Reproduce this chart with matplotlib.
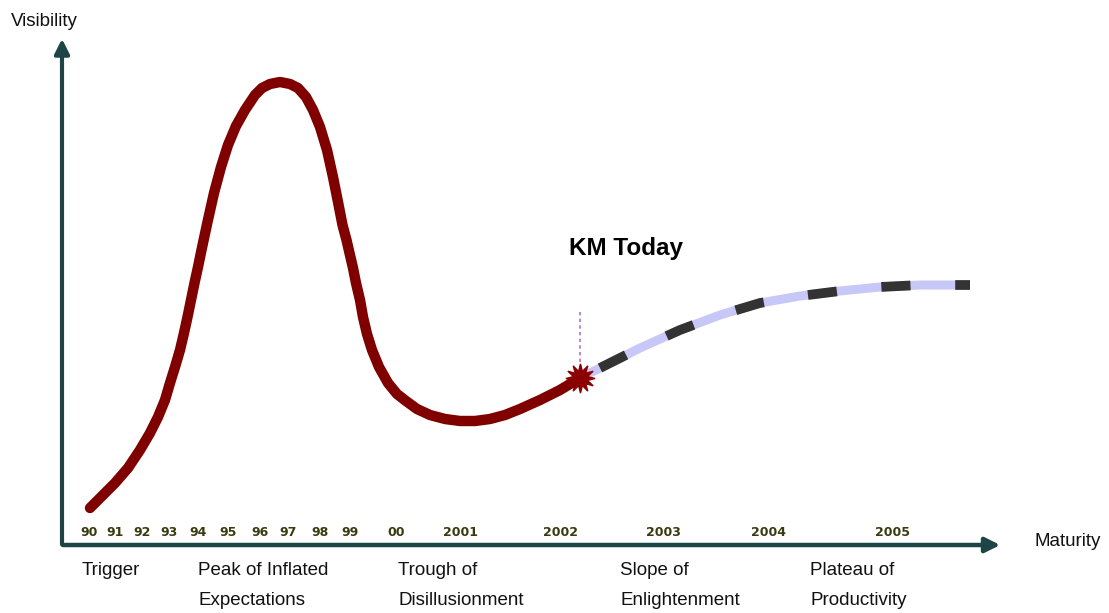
import matplotlib.pyplot as plt

# hype curve (pixel units, y downwards)
hype_x = [90, 102, 115, 128, 140, 150, 158, 165, 170, 175, 180, 184, 187.5, 191, 194.5,
          198, 201.5, 207.5, 214, 221, 228, 236, 245, 255, 262, 270, 280, 290, 298, 306,
          313, 320, 327, 333, 338, 342.5, 346.5, 349.5, 353, 356, 360, 363, 367, 372, 379,
          388, 397, 406, 417, 430, 445, 460, 475, 490, 505, 520, 540, 560, 580]
hype_y = [508, 496, 483, 468, 450, 433, 417, 400, 383, 367, 350, 333, 317, 300, 283,
          267, 250, 222, 193, 167, 145, 126, 110, 95, 88, 84, 82, 84, 88, 97,
          110, 127, 150, 177, 202, 225, 240, 253, 268, 283, 300, 317, 334, 350, 367,
          383, 394, 401, 409, 415, 419, 421, 421, 419, 415, 409, 400, 390, 378]

future_x = [580, 600, 640, 680, 720, 760, 800, 840, 880, 920, 970]
future_y = [378, 368, 348, 330, 315, 303, 296, 291, 287, 285, 285]

today = (580, 378)

year_labels = ['90', '91', '92', '93', '94', '95', '96', '97', '98', '99', '00',
               '2001', '2002', '2003', '2004', '2005']
year_pos = [89, 115, 142, 169, 198, 228, 260, 288, 320, 350, 396,
            461, 561, 663, 768, 892]

phase_labels = ['Trigger', 'Peak of Inflated\nExpectations', 'Trough of\nDisillusionment',
                'Slope of\nEnlightenment', 'Plateau of\nProductivity']
phase_pos = [82, 198, 398, 620, 810]

plt.rcParams['font.family'] = ['Liberation Sans', 'DejaVu Sans']

fig = plt.figure(figsize=(11.09, 6.13), dpi=100)
ax = fig.add_axes([0, 0, 1, 1])
ax.set_xlim(0, 1109)
ax.set_ylim(613, 0)
ax.axis('off')

axis_col = '#1d4545'
ax.annotate('', xy=(62, 36), xytext=(62, 547),
            arrowprops=dict(arrowstyle='-|>', lw=3, color=axis_col, mutation_scale=22))
ax.annotate('', xy=(1003, 545), xytext=(60, 545),
            arrowprops=dict(arrowstyle='-|>', lw=3.2, color=axis_col, mutation_scale=22))
ax.text(11, 21, 'Visibility', fontsize=13.5, va='center', ha='left', color='#111111')
ax.text(1035, 542, 'Maturity', fontsize=13.5, va='center', ha='left', color='#111111')

# curve
ax.plot(hype_x, hype_y, color='#800000', lw=7.5, solid_capstyle='round',
        solid_joinstyle='round', zorder=3)
ax.plot(future_x, future_y, color='#c8c8f8', lw=6.5, solid_capstyle='butt', zorder=2)
dark, = ax.plot(future_x[1:], future_y[1:], color='#333333', lw=7,
                solid_capstyle='butt', zorder=3)
dark.set_dashes((3.0, 4.6))

# today marker
ax.plot([today[0], today[0]], [312, today[1] - 8], color='#b070d8', lw=1.2,
        ls=(0, (2, 2)), zorder=2)
ax.plot(*today, marker=(12, 1, 0), ms=21, color='#8b0000', zorder=4)
ax.text(569, 248, 'KM Today', fontsize=17.5, fontweight='bold', va='center', ha='left')

for lab, x in zip(year_labels, year_pos):
    ax.text(x, 532, lab, fontsize=9, fontweight='bold', ha='center', va='center',
            color='#3a3a10', family='DejaVu Sans')

for lab, x in zip(phase_labels, phase_pos):
    ax.text(x, 562, lab, fontsize=13.5, ha='left', va='top', color='#111111',
            linespacing=2.0)

fig.savefig('out.png', dpi=100)
